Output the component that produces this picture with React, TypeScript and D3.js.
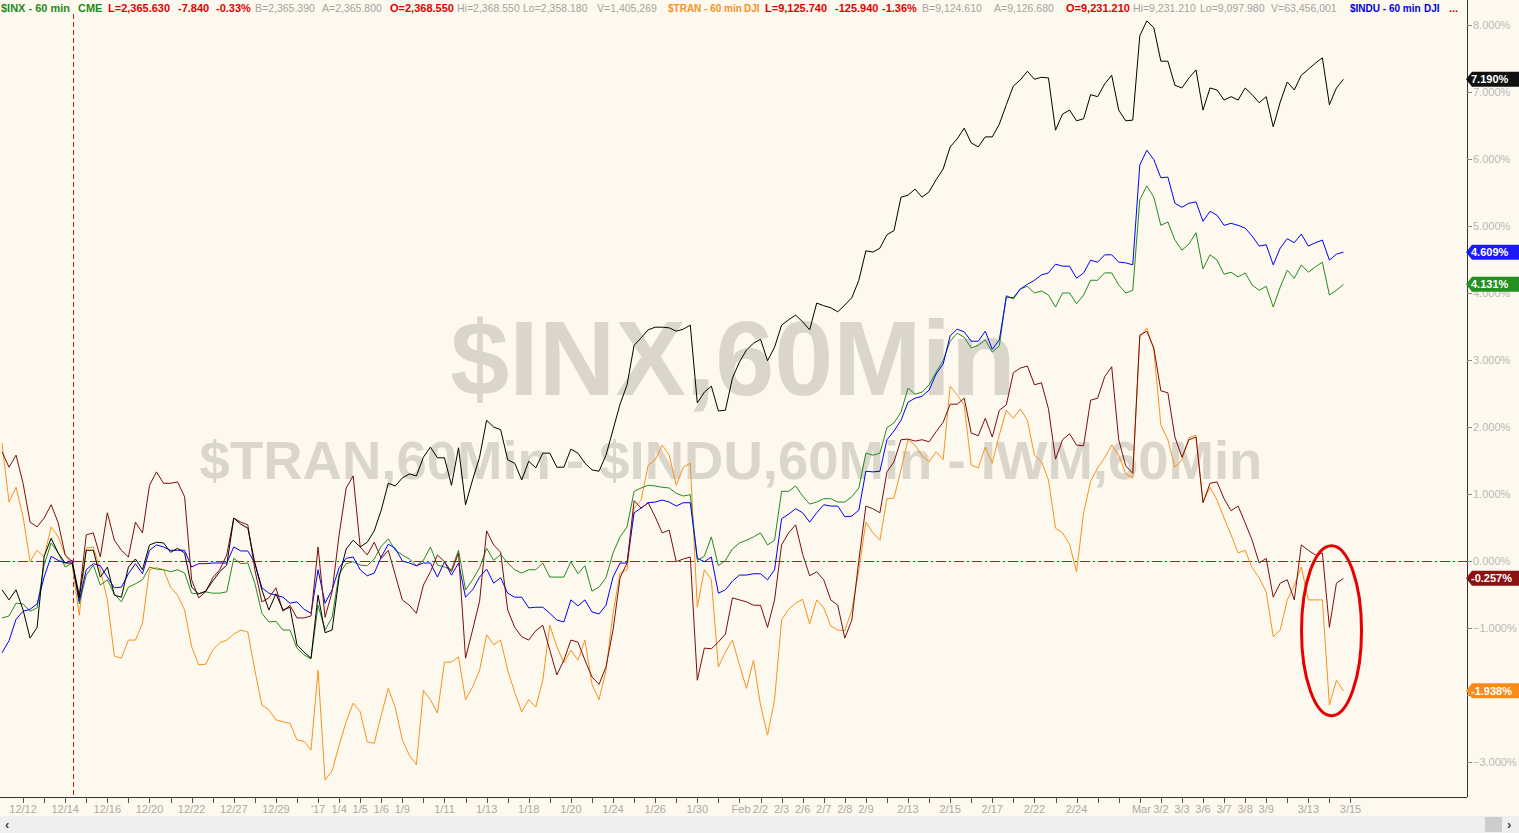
import React from 'react';
import * as d3 from 'd3';

// ---------------- DATA ----------------
// Percent change, sampled every 1/3 trading day starting 12/9 (day 0)
const COMPQ = [
  -0.43, -0.58, -0.43, -0.73, -1.15, -0.99, 0.07, 0.34, 0.12, -0.03,
  -0.03, -0.55, 0.16, 0.16, -0.24, -0.09, -0.51, -0.54, -0.09, 0.03,
  -0.13, 0.24, 0.28, 0.27, 0.13, 0.19, 0.12, -0.39, -0.49, -0.45,
  -0.30, -0.16, -0.06, 0.64, 0.55, 0.49, -0.03, -0.43, -0.73, -0.49,
  -0.73, -0.69, -1.25, -1.36, -1.45, -0.51, -1.07, -1.03, -0.24, 0.18,
  0.31, 0.21, 0.28, 0.45, 0.76, 1.16, 1.12, 1.24, 1.30, 1.27,
  1.55, 1.70, 1.54, 1.54, 1.13, 1.69, 0.84, 1.21, 1.55, 2.10,
  2.00, 1.96, 1.51, 1.46, 1.21, 1.49, 1.39, 1.61, 1.61, 1.40,
  1.40, 1.67, 1.61, 1.46, 1.36, 1.34, 1.58, 1.96, 2.34, 2.63,
  3.22, 3.33, 3.45, 3.49, 3.49, 3.48, 3.43, 3.46, 3.52, 2.36,
  2.52, 2.61, 2.24, 2.25, 2.73, 2.97, 3.15, 3.25, 3.31, 2.99,
  3.19, 3.52, 3.60, 3.67, 3.57, 3.45, 3.85, 3.81, 3.78, 3.72,
  3.82, 3.93, 4.19, 4.63, 4.61, 4.67, 4.87, 4.93, 5.43, 5.46,
  5.55, 5.43, 5.51, 5.69, 5.85, 6.18, 6.30, 6.46, 6.24, 6.18,
  6.33, 6.33, 6.52, 6.81, 7.09, 7.18, 7.31, 7.19, 7.22, 7.21,
  6.43, 6.67, 6.73, 6.57, 6.60, 6.96, 6.93, 7.12, 7.25, 6.73,
  6.57, 6.58, 7.84, 8.06, 7.96, 7.46, 7.46, 7.10, 7.06, 7.21,
  7.33, 6.73, 7.06, 7.03, 6.88, 6.93, 6.88, 7.06, 6.96, 6.84,
  6.93, 6.48, 6.85, 7.15, 7.03, 7.25, 7.34, 7.43, 7.51, 6.81,
  7.06, 7.19,
];

const INDU = [
  -1.37, -1.19, -0.87, -0.75, -0.72, -0.64, -0.24, 0.07, 0.01, -0.03,
  0.01, -0.60, -0.13, -0.04, -0.07, -0.24, -0.40, -0.39, -0.19, -0.04,
  -0.19, 0.16, 0.24, 0.21, 0.16, 0.16, 0.16, -0.09, -0.04, -0.04,
  -0.03, -0.03, -0.03, 0.21, 0.15, 0.15, -0.03, -0.40, -0.48, -0.51,
  -0.54, -0.63, -0.61, -0.72, -0.78, -0.13, -0.63, -0.43, -0.10, 0.04,
  0.06, -0.13, -0.22, -0.18, 0.06, 0.25, 0.19, 0.00, -0.03, -0.07,
  -0.03, -0.03, -0.24, -0.01, -0.21, -0.03, -0.54, -0.43, -0.24, -0.12,
  -0.33, -0.25, -0.48, -0.54, -0.54, -0.70, -0.69, -0.69, -0.78, -0.88,
  -0.91, -0.58, -0.67, -0.58, -0.76, -0.79, -0.66, -0.24, -0.03, -0.03,
  0.72, 0.79, 0.87, 0.88, 0.91, 0.88, 0.82, 0.87, 0.87, 0.04,
  -0.01, 0.06, -0.48, -0.43, -0.30, -0.21, -0.21, -0.19, -0.19, -0.28,
  -0.13, 0.63, 0.70, 0.78, 0.72, 0.58, 0.72, 0.84, 0.82, 0.82,
  0.66, 0.67, 0.76, 1.34, 1.33, 1.34, 1.81, 1.94, 2.10, 2.37,
  2.43, 2.46, 2.55, 2.79, 2.94, 3.36, 3.46, 3.42, 3.28, 3.28,
  3.43, 3.16, 3.30, 3.94, 3.93, 4.06, 4.13, 4.19, 4.27, 4.30,
  4.43, 4.40, 4.40, 4.22, 4.30, 4.49, 4.46, 4.57, 4.57, 4.46,
  4.45, 4.42, 5.91, 6.13, 5.99, 5.72, 5.73, 5.34, 5.28, 5.34,
  5.36, 5.07, 5.22, 5.16, 5.01, 5.04, 5.01, 4.97, 4.85, 4.70,
  4.72, 4.42, 4.67, 4.81, 4.75, 4.88, 4.70, 4.75, 4.79, 4.49,
  4.58, 4.61,
];

const INX = [
  -0.85, -0.82, -0.63, -0.64, -0.75, -0.70, -0.06, 0.27, 0.12, -0.09,
  -0.03, -0.64, -0.21, -0.06, -0.36, -0.28, -0.49, -0.61, -0.39, -0.34,
  -0.28, -0.09, -0.12, -0.13, -0.16, -0.13, -0.18, -0.48, -0.49, -0.46,
  -0.48, -0.48, -0.46, 0.04, -0.04, -0.03, -0.33, -0.78, -0.91, -0.90,
  -1.03, -1.03, -1.30, -1.40, -1.46, -0.66, -1.03, -0.84, -0.19, -0.04,
  -0.01, -0.06, -0.07, 0.03, 0.22, 0.33, 0.16, 0.09, 0.03, -0.07,
  0.01, 0.21, -0.06, -0.09, -0.13, 0.16, -0.43, -0.28, -0.10, 0.19,
  0.01, 0.10, -0.03, -0.13, -0.18, -0.13, -0.13, -0.03, -0.24, -0.24,
  -0.24, -0.01, -0.19, -0.07, -0.45, -0.39, -0.25, 0.12, 0.36, 0.51,
  1.04, 1.09, 1.13, 1.12, 1.10, 1.09, 1.01, 0.97, 0.99, 0.01,
  0.07, 0.36, -0.07, 0.01, 0.18, 0.27, 0.31, 0.36, 0.42, 0.24,
  0.31, 1.04, 1.04, 1.12, 0.97, 0.85, 0.88, 0.93, 0.93, 0.88,
  0.88, 0.96, 1.09, 1.61, 1.58, 1.61, 1.99, 2.06, 2.22, 2.58,
  2.49, 2.52, 2.63, 2.82, 2.99, 3.28, 3.40, 3.34, 3.18, 3.22,
  3.30, 3.12, 3.21, 3.96, 3.91, 4.06, 4.10, 4.00, 4.03, 3.97,
  3.79, 4.00, 4.00, 3.84, 3.97, 4.19, 4.19, 4.30, 4.30, 4.12,
  4.00, 4.04, 5.39, 5.60, 5.43, 5.01, 5.06, 4.79, 4.64, 4.73,
  4.90, 4.36, 4.57, 4.49, 4.28, 4.31, 4.24, 4.30, 4.12, 4.04,
  4.10, 3.79, 4.09, 4.34, 4.22, 4.42, 4.31, 4.39, 4.46, 3.97,
  4.04, 4.13,
];

const IWM = [
  1.63, 1.40, 1.58, 1.16, 0.58, 0.51, 0.64, 0.84, 0.57, 0.09,
  -0.01, -0.51, 0.39, 0.42, 0.06, 0.72, 0.31, 0.16, 0.06, 0.58,
  0.42, 1.13, 1.33, 1.16, 1.16, 1.18, 0.96, -0.28, -0.55, -0.46,
  -0.25, -0.13, 0.09, 0.64, 0.58, 0.54, -0.13, -0.61, -0.55, -0.40,
  -0.75, -0.66, -0.85, -0.85, -0.82, 0.21, -0.84, -0.46, 0.39, 1.09,
  1.27, 0.21, 0.09, 0.28, 0.04, 0.16, -0.21, -0.58, -0.66, -0.78,
  -0.36, -0.16, 0.09, -0.01, -0.16, 0.12, -1.45, -1.03, -0.60, 0.45,
  0.24, 0.13, -0.73, -0.99, -1.13, -1.18, -1.04, -0.96, -1.33, -1.70,
  -1.48, -1.18, -1.21, -1.48, -1.73, -1.84, -1.58, -1.03, -0.25, -0.03,
  0.90, 0.79, 0.87, 0.66, 0.42, 0.46, -0.01, 0.03, 0.06, -1.78,
  -1.30, -1.31, -1.21, -1.09, -0.55, -0.58, -0.61, -0.66, -0.66, -0.99,
  -0.58, 0.24, 0.42, 0.54, 0.10, -0.22, -0.16, -0.28, -0.58, -0.66,
  -1.15, -0.88, 0.01, 0.82, 0.78, 0.72, 1.33, 1.48, 1.81, 1.82,
  1.79, 1.81, 1.78, 1.93, 2.07, 2.34, 2.34, 2.43, 1.91, 1.87,
  2.13, 1.85, 2.25, 2.33, 2.81, 2.88, 2.91, 2.63, 2.66, 2.27,
  1.52, 1.81, 1.90, 1.73, 1.72, 2.40, 2.43, 2.75, 2.90, 1.81,
  1.42, 1.31, 3.37, 3.43, 3.18, 2.54, 2.51, 1.85, 1.55, 1.81,
  1.85, 0.87, 1.16, 1.18, 0.93, 0.75, 0.82, 0.57, 0.31, -0.03,
  0.04, -0.54, -0.33, -0.28, -0.58, 0.24, 0.16, 0.09, 0.12, -0.99,
  -0.33, -0.26,
];

const TRAN = [
  1.76, 0.88, 1.10, 0.66, -0.01, 0.16, 0.06, 0.51, 0.36, 0.09,
  -0.06, -0.81, 0.19, 0.21, -0.13, -0.58, -1.42, -1.45, -1.18, -1.18,
  -0.93, -0.13, -0.10, -0.13, -0.39, -0.51, -0.73, -1.28, -1.55, -1.54,
  -1.33, -1.22, -1.18, -1.09, -1.03, -1.06, -1.63, -2.15, -2.22, -2.37,
  -2.40, -2.42, -2.67, -2.69, -2.82, -1.63, -3.27, -3.13, -2.75, -2.40,
  -2.12, -2.25, -2.70, -2.72, -2.30, -1.90, -2.19, -2.67, -2.90, -3.04,
  -1.93, -2.07, -2.27, -1.51, -1.51, -1.43, -2.07, -1.88, -1.63, -1.10,
  -1.25, -1.18, -1.63, -1.96, -2.25, -2.07, -2.18, -1.78, -0.96, -1.28,
  -1.52, -1.33, -1.48, -1.18, -1.84, -2.07, -1.63, -0.78, -0.18, -0.13,
  0.79, 0.91, 1.43, 1.51, 1.73, 1.58, 1.13, 1.40, 1.46, -0.69,
  -0.13, -0.28, -1.58, -1.36, -1.18, -1.55, -1.90, -1.48, -2.15, -2.60,
  -2.07, -0.88, -0.72, -0.63, -0.57, -0.94, -0.58, -0.70, -0.97, -1.03,
  -1.04, -0.73, -0.13, 0.58, 0.42, 0.31, 0.93, 0.94, 1.36, 1.81,
  1.73, 1.57, 1.48, 1.63, 1.51, 2.61, 2.48, 2.33, 1.43, 1.39,
  1.70, 1.46, 1.88, 2.25, 2.13, 2.27, 2.10, 1.58, 1.48, 1.21,
  0.49, 0.42, 0.25, -0.16, 0.72, 1.19, 1.39, 1.54, 1.73, 1.58,
  1.30, 1.24, 3.34, 3.48, 3.15, 2.03, 1.81, 1.40, 1.51, 1.84,
  1.88, 0.88, 1.10, 0.91, 0.64, 0.39, 0.12, 0.16, -0.10, -0.25,
  -0.46, -1.13, -1.03, -0.58, -0.36, -0.09, -0.58, -0.58, -0.58, -2.15,
  -1.78, -1.94,
];

// Last-value labels on the right axis
const lastLabels = ['7.190%', '4.609%', '4.131%', '-0.257%', '-1.938%'];
const lastValues = [7.19, 4.609, 4.131, -0.257, -1.938];

// X axis: trading-day index -> label
const tickDays = [1, 3, 5, 7, 9, 11, 13, 15, 16, 17, 18, 19, 21, 23, 25, 27, 29, 31, 33, 36, 37, 38, 39, 40, 41, 43, 45, 47, 49, 51, 55, 56, 57, 58, 59, 60, 62, 64];
const tickLabels = ['12/12', '12/14', '12/16', '12/20', '12/22', '12/27', '12/29', "'17", '1/4', '1/5', '1/6', '1/9', '1/11', '1/13', '1/18', '1/20', '1/24', '1/26', '1/30', '2/2', '2/3', '2/6', '2/7', '2/8', '2/9', '2/13', '2/15', '2/17', '2/22', '2/24', '3/2', '3/3', '3/6', '3/7', '3/8', '3/9', '3/13', '3/15'];
const monthPrefixes: Record<string, string> = { '2/2': 'Feb', '3/2': 'Mar' };
const lastTickDay = 64;

// Y axis ticks (percent)
const yTicks = [8, 7, 6, 5, 4, 3, 2, 1, 0, -1, -2, -3];
const yTicksHiddenText = [-2]; // fully covered by the last-value tag in the reference

const markerDay = 3.37; // vertical marker on 12/14

// Header legend tokens
const legendTexts = [
  '$INX - 60 min', 'CME', 'L=2,365.630', '-7.840', '-0.33%', 'B=2,365.390', 'A=2,365.800', 'O=2,368.550', 'Hi=2,368.550', 'Lo=2,358.180', 'V=1,405,269',
  '$TRAN - 60 min', 'DJI', 'L=9,125.740', '-125.940', '-1.36%', 'B=9,124.610', 'A=9,126.680', 'O=9,231.210', 'Hi=9,231.210', 'Lo=9,097.980', 'V=63,456,001',
  '$INDU - 60 min', 'DJI', '...',
];
const legendKinds = [
  'g', 'g', 'r', 'r', 'r', 'n', 'n', 'r', 'n', 'n', 'n',
  'o', 'o', 'r', 'r', 'r', 'n', 'n', 'r', 'n', 'n', 'n',
  'b', 'b', 'r',
];

// ---------------- LAYOUT / STYLE ----------------
const W = 1519;
const H = 833;
const PLOT_RIGHT = 1467;
const PLOT_BOTTOM = 797;
const STEP = 1 / 3;
const legendX = [1, 78, 108, 178, 216, 255, 322, 390, 457, 523, 597, 668, 744, 765, 835, 882, 922, 994, 1066, 1133, 1200, 1271, 1350, 1424, 1449];
const legendSize = [11, 11, 11, 11, 11, 10.5, 10.5, 11, 10.5, 10.5, 10.5, 10, 10, 11, 11, 11, 10.5, 10.5, 11, 10.5, 10.5, 10.5, 10, 10, 11];

const C = {
  bg: '#FEF9EE',
  black: '#000000',
  blue: '#0000FF',
  green: '#228B22',
  maroon: '#7A0E0E',
  orange: '#F7921E',
  wm: '#DAD6CC',
};
const kindColor: Record<string, string> = { g: '#1E8B1E', r: '#E00000', n: '#A3A3A3', o: '#F7921E', b: '#0000E0' };
const seriesList = [
  { data: TRAN, color: C.orange },
  { data: INX, color: C.green },
  { data: INDU, color: C.blue },
  { data: IWM, color: C.maroon },
  { data: COMPQ, color: C.black },
];
const labelColors = ['#111111', '#1A1AF5', '#23901F', '#8B1212', '#FA8A1A'];

const FONT = "'Liberation Sans', Arial, Helvetica, sans-serif";

export default function App() {
  const x = d3.scaleLinear().domain([0, 69.53]).range([2, PLOT_RIGHT]);
  const y = d3.scaleLinear().domain([-3.522, 8.373]).range([PLOT_BOTTOM, 0]);
  const line = d3
    .line<number>()
    .x((_, i) => x(i * STEP))
    .y((d) => y(d));

  const dayTicks = d3.range(1, lastTickDay + 1);

  return (
    <svg
      width={W}
      height={H}
      style={{ position: 'absolute', left: 0, top: 0, display: 'block' }}
      fontFamily={FONT}
    >
      <defs>
        <clipPath id="plotClip">
          <rect x={0} y={0} width={PLOT_RIGHT} height={PLOT_BOTTOM} />
        </clipPath>
      </defs>
      <rect x={0} y={0} width={W} height={H} fill={C.bg} />

      {/* watermarks */}
      <text x={733} y={395} textAnchor="middle" fontSize={106} fontWeight="bold" fill={C.wm}>
        $INX,60Min
      </text>
      <text x={731} y={479} textAnchor="middle" fontSize={54.5} fontWeight="bold" fill={C.wm}>
        $TRAN,60Min - $INDU,60Min - IWM,60Min
      </text>

      {/* vertical marker */}
      <line
        x1={Math.round(x(markerDay)) + 0.5}
        x2={Math.round(x(markerDay)) + 0.5}
        y1={14}
        y2={PLOT_BOTTOM}
        stroke="#E01010"
        strokeWidth={1}
        strokeDasharray="5,3"
      />
      {/* zero line */}
      <line
        x1={0}
        x2={PLOT_RIGHT}
        y1={Math.round(y(0)) + 0.5}
        y2={Math.round(y(0)) + 0.5}
        stroke="#C01818"
        strokeWidth={1}
        strokeDasharray="10,3,2,3"
      />

      {/* series */}
      <g clipPath="url(#plotClip)">
        {seriesList.map((s, k) => (
          <path key={k} d={line(s.data) || ''} fill="none" stroke={s.color} strokeWidth={1} strokeLinejoin="round" />
        ))}
      </g>

      {/* highlight ellipse */}
      <ellipse cx={x(63.1)} cy={y(-1.04)} rx={30} ry={85} fill="none" stroke="#E80000" strokeWidth={3} />

      {/* header legend */}
      {legendTexts.map((t, i) => (
        <text
          key={i}
          x={legendX[i]}
          y={12}
          fontSize={legendSize[i]}
          fontWeight={legendKinds[i] === 'n' ? 'normal' : 'bold'}
          fill={kindColor[legendKinds[i]]}
        >
          {t}
        </text>
      ))}

      {/* right axis */}
      <line x1={PLOT_RIGHT + 0.5} x2={PLOT_RIGHT + 0.5} y1={0} y2={PLOT_BOTTOM} stroke="#333" strokeWidth={1} />
      {yTicks.map((v) => (
        <g key={v}>
          <line x1={PLOT_RIGHT} x2={PLOT_RIGHT + 5} y1={Math.round(y(v)) + 0.5} y2={Math.round(y(v)) + 0.5} stroke="#888" />
          {!yTicksHiddenText.includes(v) && (
            <text x={PLOT_RIGHT + 6} y={y(v) + 4} fontSize={11} fill="#B8B8B8">
              {d3.format('.3f')(v)}%
            </text>
          )}
        </g>
      ))}

      {/* last value labels */}
      {lastValues.map((v, i) => {
        const cy = y(v);
        const pts = [
          [PLOT_RIGHT - 1, cy],
          [PLOT_RIGHT + 5, cy - 7.5],
          [W, cy - 7.5],
          [W, cy + 7.5],
          [PLOT_RIGHT + 5, cy + 7.5],
        ]
          .map((p) => p.join(','))
          .join(' ');
        return (
          <g key={i}>
            <polygon points={pts} fill={labelColors[i]} />
            <text x={PLOT_RIGHT + 4} y={cy + 4} fontSize={11} fontWeight="bold" fill="#FFFFFF">
              {lastLabels[i]}
            </text>
          </g>
        );
      })}

      {/* bottom axis */}
      <line x1={0} x2={PLOT_RIGHT} y1={PLOT_BOTTOM + 0.5} y2={PLOT_BOTTOM + 0.5} stroke="#333" strokeWidth={1} />
      {dayTicks.map((d) => (
        <line
          key={d}
          x1={Math.round(x(d)) + 0.5}
          x2={Math.round(x(d)) + 0.5}
          y1={PLOT_BOTTOM}
          y2={PLOT_BOTTOM + 6}
          stroke="#555"
        />
      ))}
      {tickDays.map((d, i) => {
        const lbl = tickLabels[i];
        const pre = monthPrefixes[lbl];
        return (
          <g key={d}>
            <text x={x(d)} y={PLOT_BOTTOM + 16} textAnchor="middle" fontSize={11} fill="#AAAAAA">
              {lbl}
            </text>
            {pre && (
              <text x={x(d) - 10} y={PLOT_BOTTOM + 16} textAnchor="end" fontSize={11} fill="#AAAAAA">
                {pre}
              </text>
            )}
          </g>
        );
      })}

      {/* scrollbar band */}
      <rect x={0} y={816} width={W} height={17} fill="#EFEFEF" />
      <text x={5} y={829} fontSize={13} fontWeight="bold" fill="#444">‹</text>
      <rect x={1485} y={817} width={17} height={15} fill="#CDCDCD" />
      <text x={1507} y={829} fontSize={13} fontWeight="bold" fill="#444">›</text>
    </svg>
  );
}
